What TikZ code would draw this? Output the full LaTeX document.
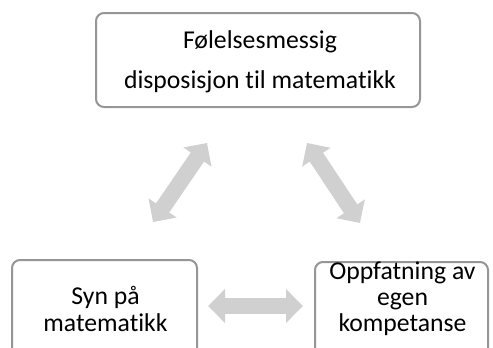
\documentclass[tikz,border=0pt]{standalone}
\usepackage{fontspec}
\setmainfont[Ligatures=NoCommon]{Carlito}
\usetikzlibrary{arrows.meta}
\definecolor{boxgray}{RGB}{150,150,150}
\definecolor{arrowgray}{RGB}{208,208,208}
\tikzset{
	box/.style={draw=boxgray, line width=2pt, rounded corners=8pt, fill=white},
	txt/.style={align=center, inner sep=0pt},
	bigarrow/.style={draw=arrowgray, line width=16pt,
		{Triangle[width=33pt, length=17pt]}-{Triangle[width=33pt, length=17pt]}}
}
\begin{document}
\begin{tikzpicture}[x=1pt, y=-1pt]
	\clip (0, 0) rectangle (493, 348);
	% boxes
	\node[box, minimum width=324pt, minimum height=94pt] (fol) at (258, 60) {};
	\node[box, minimum width=185pt, minimum height=110pt] (syn) at (104.5, 315) {};
	\node[box, minimum width=173pt, minimum height=110pt] (egen) at (401.5, 317) {};
	\node[txt, font=\fontsize{25.7}{40}\selectfont] (foltxt) at (260, 62) {Følelsesmessig\\disposisjon til matematikk};
	\node[txt, font=\fontsize{25.7}{27}\selectfont] (syntxt) at (105.5, 308.5) {Syn på\\matematikk};
	\node[txt, font=\fontsize{25.7}{26}\selectfont] (egentxt) at (402.5, 299) {Oppfatning av\\egen\\kompetanse};
	% arrows
	\coordinate (a1) at (207, 143);
	\coordinate (a2) at (153, 222);
	\coordinate (b1) at (307, 143);
	\coordinate (b2) at (360, 223);
	\coordinate (c1) at (208, 306);
	\coordinate (c2) at (303, 306);
	\draw[bigarrow] (a1) -- (a2);
	\draw[bigarrow] (b1) -- (b2);
	\draw[bigarrow] (c1) -- (c2);
\end{tikzpicture}
\end{document}
